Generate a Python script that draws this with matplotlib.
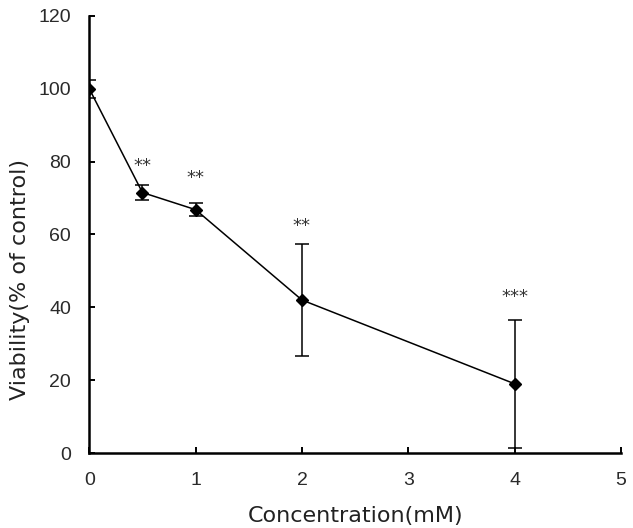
import matplotlib
matplotlib.use("Agg")
import matplotlib.pyplot as plt

conc = [0, 0.5, 1, 2, 4]
viability = [100, 71.5, 66.8, 42.0, 19.0]
errors = [2.5, 2.0, 1.8, 15.5, 17.5]
sig_labels = ["", "**", "**", "**", "***"]
sig_y = [None, 77.5, 74.2, 60.9, 41.5]
xticks = [0, 1, 2, 3, 4, 5]
yticks = [0, 20, 40, 60, 80, 100, 120]

plt.rcParams['font.family'] = ['Liberation Sans', 'DejaVu Sans']
fig = plt.figure(figsize=(6.33, 5.28), dpi=100)
ax = fig.add_axes([0.141, 0.142, 0.84, 0.828])

ax.errorbar(conc, viability, yerr=errors, color='black', marker='D', markersize=6,
            linewidth=1.1, elinewidth=1.1, capsize=5, capthick=1.1, ecolor='black')

for x, lab, y in zip(conc, sig_labels, sig_y):
    if lab:
        ax.text(x, y, lab, ha='center', va='baseline', fontsize=13, color='#333333',
                family='DejaVu Sans')

ax.set_xlim(0, 5)
ax.set_ylim(0, 120)
ax.set_xticks(xticks)
ax.set_yticks(yticks)
ax.spines['top'].set_visible(False)
ax.spines['right'].set_visible(False)
ax.spines['left'].set_linewidth(1.8)
ax.spines['bottom'].set_linewidth(1.8)
ax.tick_params(direction='in', length=4, width=1.4, labelsize=14, colors='black',
               labelcolor='#2a2a2a')
ax.tick_params(axis='x', pad=14)
ax.tick_params(axis='y', pad=13)
ax.set_xlabel('Concentration(mM)', fontsize=16, color='#222222', labelpad=12,
              family='DejaVu Sans')
ax.set_ylabel('Viability(% of control)', fontsize=16, color='#222222',
              family='DejaVu Sans')
ax.yaxis.set_label_coords(-0.112, 0.396)

fig.savefig('out.png', dpi=100)
